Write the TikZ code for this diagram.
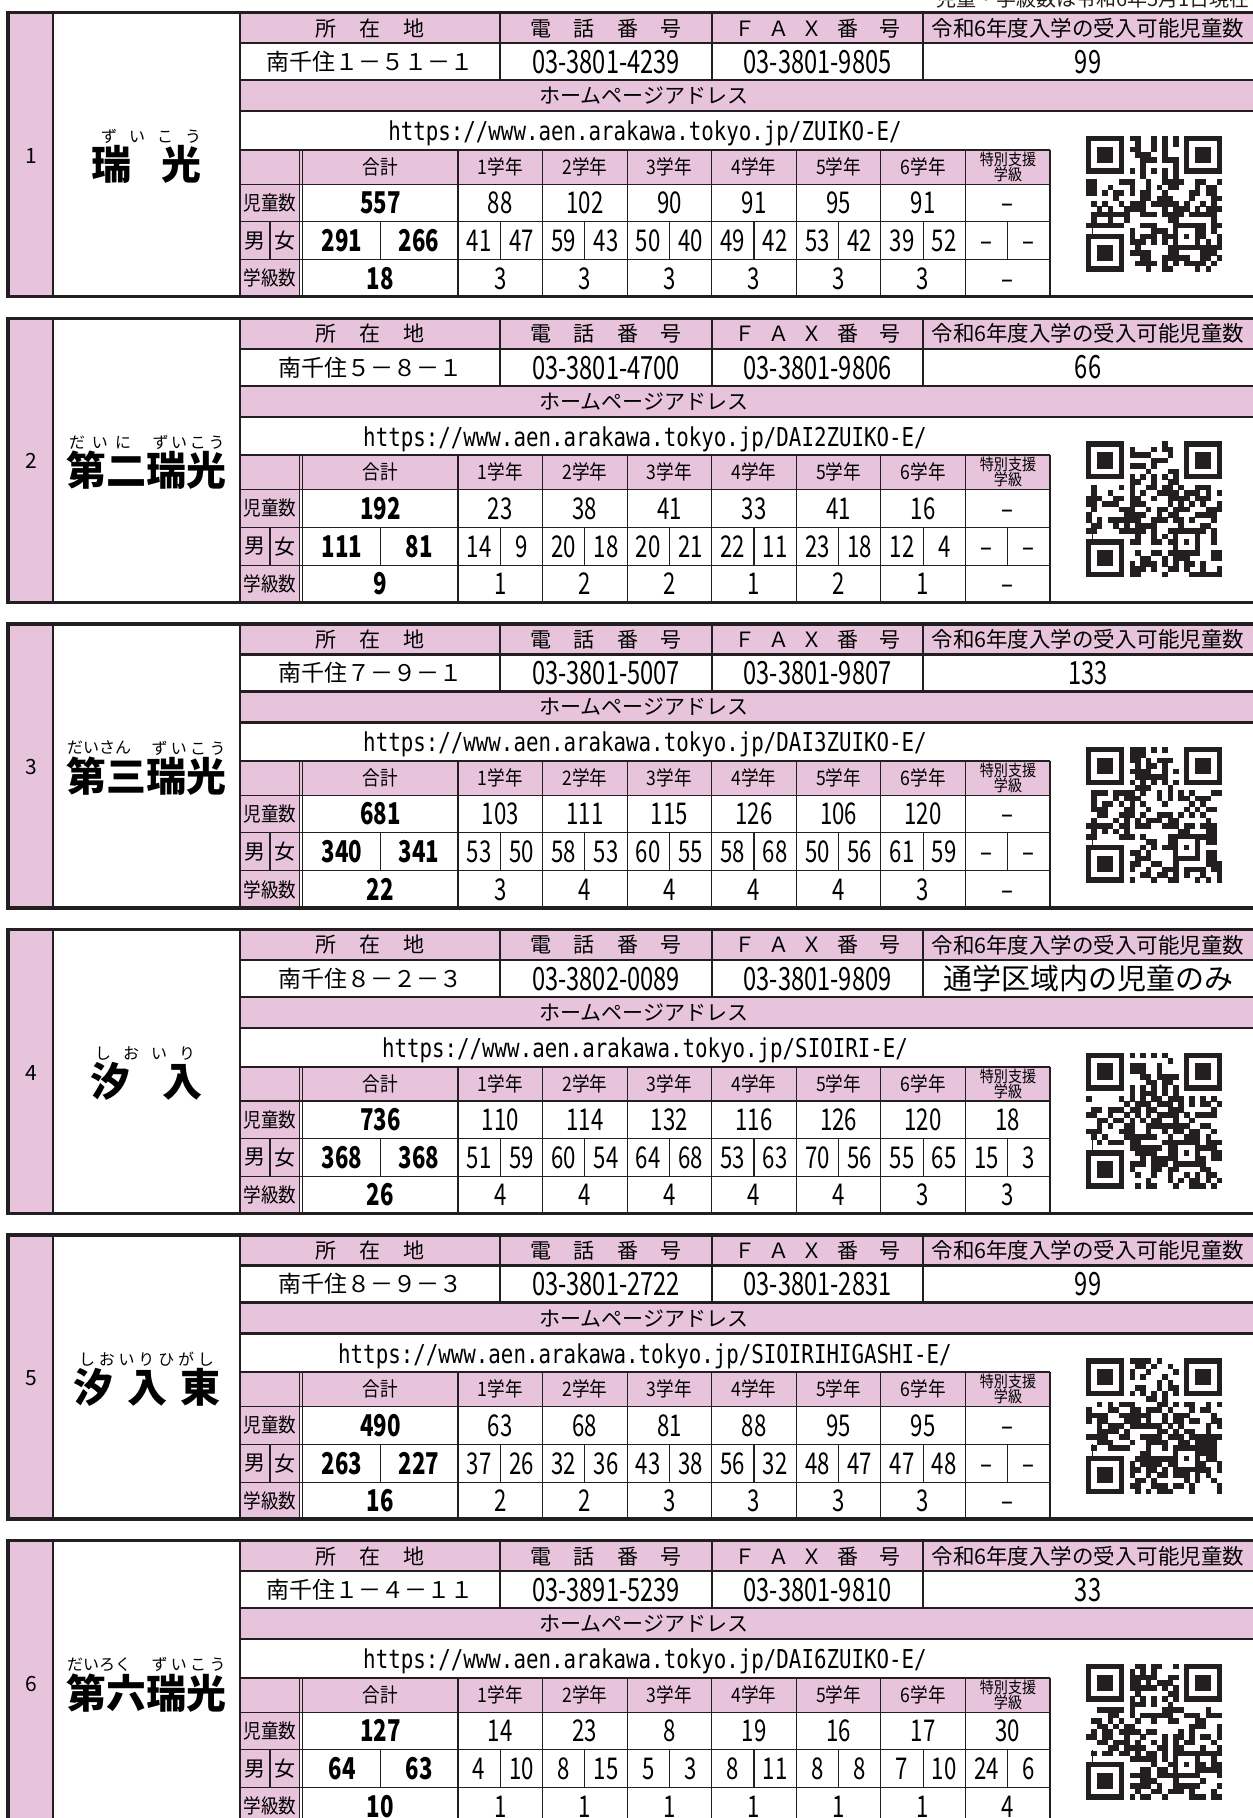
\documentclass[tikz,border=0pt]{standalone}
\usepackage{fontspec}
\setmainfont{Noto Sans CJK JP}
\newfontfamily\jp{Noto Sans CJK JP}
\newfontfamily\jpc[FakeStretch=0.88]{Noto Sans CJK JP}
\newfontfamily\cond[FakeStretch=0.74]{Noto Sans CJK JP}
\newfontfamily\mono[FakeStretch=0.8]{DejaVu Sans Mono}
\definecolor{pk}{RGB}{232,196,220}
\definecolor{ink}{RGB}{35,31,32}
\newcommand\capfont{\cond\fontsize{32}{32}\selectfont}
\tikzset{
  hdr/.style={font=\jp\fontsize{21}{21}\selectfont, inner sep=0},
  adr/.style={font=\jp\fontsize{23}{23}\selectfont, inner sep=0},
  val/.style={font=\cond\fontsize{32}{32}\selectfont, inner sep=0, text height=23.4pt, text depth=0pt},
  num/.style={font=\cond\fontsize{30}{30}\selectfont, inner sep=0, text height=21.9pt, text depth=0pt},
  bnum/.style={font=\cond\bfseries\fontsize{30}{30}\selectfont, inner sep=0, text height=21.9pt, text depth=0pt},
  lab/.style={font=\jpc\fontsize{20}{20}\selectfont, inner sep=0},
  smlab/.style={font=\jpc\fontsize{16}{15}\selectfont, inner sep=0, align=center},
  urltext/.style={font=\mono\fontsize{26}{26}\selectfont, inner sep=0},
  sname/.style={font=\jp\bfseries\fontsize{40}{40}\selectfont, inner sep=0},
  furi/.style={font=\jp\fontsize{16}{16}\selectfont, inner sep=0},
  thk/.style={draw=ink, line width=2.4pt},
  med/.style={draw=ink, line width=2pt},
  thn/.style={draw=ink, line width=1.1pt}
}
\newcommand\qrpat[3]{%
  \begin{scope}[shift={(#1,#2)},x=5.44pt,y=-5.44pt]
    \pgfmathsetseed{#3}
    \foreach \i in {0,...,24}{
      \foreach \j in {0,...,24}{
        \pgfmathtruncatemacro\zone{(((\i<8)&&(\j<8))||((\i>16)&&(\j<8))||((\i<8)&&(\j>16))||((\i>15)&&(\i<21)&&(\j>15)&&(\j<21))) ? 0 : (((\i==6)||(\j==6)) ? 2 : 1)}
        \ifnum\zone=1
          \pgfmathrandominteger{\rr}{0}{99}
          \ifnum\rr<50 \fill[ink] (\i,\j) rectangle +(1.03,1.03);\fi
        \fi
        \ifnum\zone=2
          \pgfmathtruncatemacro\pty{mod(\i+\j,2)}
          \ifnum\pty=0 \fill[ink] (\i,\j) rectangle +(1.03,1.03);\fi
        \fi
      }
    }
    \foreach \a/\b in {0/0,18/0,0/18}{
      \fill[ink] (\a,\b) rectangle +(7,7);
      \fill[white] (\a+1,\b+1) rectangle +(5,5);
      \fill[ink] (\a+2,\b+2) rectangle +(3,3);
    }
    \fill[ink] (16,16) rectangle (21,21);
    \fill[white] (17,17) rectangle (20,20);
    \fill[ink] (18,18) rectangle (19,19);
  \end{scope}}
\newcommand\drawblock[1]{%
  % pink fills
  \fill[pk] (8,#1) rectangle (53,#1+284);
  \fill[pk] (240,#1) rectangle (1270,#1+30.5);
  \fill[pk] (240,#1+67.5) rectangle (1270,#1+98.5);
  \fill[pk] (240,#1+137) rectangle (1050,#1+171.5);
  \fill[pk] (240,#1+137) rectangle (299.3,#1+284);
  % header lines
  \draw[thk] (240,#1+30.5) -- (1270,#1+30.5);
  \draw[thk] (240,#1+67.5) -- (1270,#1+67.5);
  \draw[thk] (240,#1+98.5) -- (1270,#1+98.5);
  \foreach \xx in {500,712,923} \draw[med] (\xx,#1) -- (\xx,#1+67.5);
  % stats table lines
  \draw[med] (240,#1+137) -- (1050,#1+137);
  \draw[med] (1050,#1+137) -- (1050,#1+284);
  \foreach \yy in {171.5,209,247} \draw[thn] (240,#1+\yy) -- (1050,#1+\yy);
  \draw[thn] (299.3,#1+137) -- (299.3,#1+284);
  \draw[thn] (302.8,#1+137) -- (302.8,#1+284);
  \foreach \k in {0,...,6} \draw[thn] ({458+84.57*\k},#1+137) -- ({458+84.57*\k},#1+284);
  \foreach \k in {0,...,7} \draw[thn] ({458+84.57*\k+42.29},#1+209) -- ({458+84.57*\k+42.29},#1+247);
  \draw[thn] (380.5,#1+209) -- (380.5,#1+247);
  \draw[thn] (270,#1+209) -- (270,#1+247);
  % column lines and outer frame
  \draw[draw=ink,line width=2.5pt] (53,#1) -- (53,#1+284);
  \draw[draw=ink,line width=1.6pt] (240,#1) -- (240,#1+284);
  \draw[draw=ink,line width=3.5pt] (8,#1) rectangle (1275,#1+284);
  % header texts
  \node[hdr] at (31,#1+143) {\Num};
  \node[hdr] at (370,#1+15.5) {所\hspace{1.1em}在\hspace{1.1em}地};
  \node[hdr] at (606,#1+15.5) {電\hspace{1.06em}話\hspace{1.06em}番\hspace{1.06em}号};
  \node[hdr] at (817.5,#1+15.5) {Ｆ\hspace{0.6em}Ａ\hspace{0.6em}Ｘ\hspace{0.7em}番\hspace{1em}号};
  \node[hdr,font=\jp\fontsize{21.5}{21.5}\selectfont] at (1088,#1+15.5) {令和6年度入学の受入可能児童数};
  \node[adr] at (370,#1+49) {\Addr};
  \node[val] at (606,#1+49) {\Tel};
  \node[val] at (817.5,#1+49) {\Fax};
  \node[inner sep=0] at (1088,#1+49) {\CapT};
  \node[hdr] at (644,#1+83) {ホームページアドレス};
  \node[urltext,anchor=base] at (645,#1+128) {https://www.aen.arakawa.tokyo.jp/\Url/};
  % stats header
  \node[lab] at (380.5,#1+154) {合計};
  \foreach \k in {1,...,6} \node[lab] at ({458+84.57*(\k-1)+42.29},#1+154) {\k 学年};
  \node[smlab] at (1008,#1+154) {特別支援\\学級};
  \node[lab] at (270,#1+190) {児童数};
  \node[hdr] at (255,#1+228) {男};
  \node[hdr] at (285,#1+228) {女};
  \node[lab] at (270,#1+265.5) {学級数};
  % values
  \node[bnum] at (380.5,#1+190) {\Tot};
  \node[bnum] at (342,#1+228) {\TotM};
  \node[bnum] at (419,#1+228) {\TotF};
  \node[bnum] at (380.5,#1+265.5) {\TotC};
  \foreach \v [count=\k from 0] in \Gr \node[num] at ({458+84.57*\k+42.29},#1+190) {\v};
  \foreach \m/\f [count=\k from 0] in \Mf {
    \node[num] at ({458+84.57*\k+21.14},#1+228) {\m};
    \node[num] at ({458+84.57*\k+63.43},#1+228) {\f};
  }
  \foreach \v [count=\k from 0] in \Cl \node[num] at ({458+84.57*\k+42.29},#1+265.5) {\v};
}
\begin{document}
\begin{tikzpicture}[x=1pt,y=-1pt]
\useasboundingbox (0,0) rectangle (1253,1818);
\fill[white] (0,0) rectangle (1253,1818);
\node[font=\jp\fontsize{20}{20}\selectfont, anchor=base east, inner sep=0, text=ink] (note) at (1250,6) {児童・学級数は令和6年5月1日現在};

% ---------- 1 ----------
\def\Num{1}\def\Addr{南千住１－５１－１}\def\Tel{03-3801-4239}\def\Fax{03-3801-9805}\def\CapT{\capfont 99}\def\Url{ZUIKO-E}
\def\Tot{557}\def\TotM{291}\def\TotF{266}\def\TotC{18}
\def\Gr{88,102,90,91,95,91,–}\def\Mf{41/47,59/43,50/40,49/42,53/42,39/52,–/–}\def\Cl{3,3,3,3,3,3,–}
\drawblock{12.7}
\node[sname] (n1) at (146.5,12.7+152) {瑞\hspace{0.75em}光};
\node[furi] (f1) at (151,12.7+124) {\makebox[100pt][s]{ず\hfill い\hfill こ\hfill う}};
\qrpat{1086}{12.7+123}{11}

% ---------- 2 ----------
\def\Num{2}\def\Addr{南千住５－８－１}\def\Tel{03-3801-4700}\def\Fax{03-3801-9806}\def\CapT{\capfont 66}\def\Url{DAI2ZUIKO-E}
\def\Tot{192}\def\TotM{111}\def\TotF{81}\def\TotC{9}
\def\Gr{23,38,41,33,41,16,–}\def\Mf{14/9,20/18,20/21,22/11,23/18,12/4,–/–}\def\Cl{1,2,2,1,2,1,–}
\drawblock{318.3}
\node[sname] (n2) at (146.5,318.3+152) {第二瑞光};
\node[furi] (f2a) at (100,318.3+124) {\makebox[62pt][s]{だ\hfill い\hfill に}};
\node[furi] (f2b) at (188.5,318.3+124) {\makebox[72pt][s]{ず\hfill い\hfill こ\hfill う}};
\qrpat{1086}{318.3+123}{22}

% ---------- 3 ----------
\def\Num{3}\def\Addr{南千住７－９－１}\def\Tel{03-3801-5007}\def\Fax{03-3801-9807}\def\CapT{\capfont 133}\def\Url{DAI3ZUIKO-E}
\def\Tot{681}\def\TotM{340}\def\TotF{341}\def\TotC{22}
\def\Gr{103,111,115,126,106,120,–}\def\Mf{53/50,58/53,60/55,58/68,50/56,61/59,–/–}\def\Cl{3,4,4,4,4,3,–}
\drawblock{623.9}
\node[sname] (n3) at (146.5,623.9+152) {第三瑞光};
\node[furi] (f3a) at (97,623.9+124) {\makebox[60pt][s]{だ\hfill い\hfill さ\hfill ん}};
\node[furi] (f3b) at (188.5,623.9+124) {\makebox[74pt][s]{ず\hfill い\hfill こ\hfill う}};
\qrpat{1086}{623.9+123}{33}

% ---------- 4 ----------
\def\Num{4}\def\Addr{南千住８－２－３}\def\Tel{03-3802-0089}\def\Fax{03-3801-9809}\def\CapT{\jp\fontsize{29}{29}\selectfont 通学区域内の児童のみ}\def\Url{SIOIRI-E}
\def\Tot{736}\def\TotM{368}\def\TotF{368}\def\TotC{26}
\def\Gr{110,114,132,116,126,120,18}\def\Mf{51/59,60/54,64/68,53/63,70/56,55/65,15/3}\def\Cl{4,4,4,4,4,3,3}
\drawblock{929.5}
\node[sname] (n4) at (146,929.5+152) {汐\hspace{0.8em}入};
\node[furi] (f4) at (145,929.5+124) {\makebox[100pt][s]{し\hfill お\hfill い\hfill り}};
\qrpat{1086}{929.5+123}{44}

% ---------- 5 ----------
\def\Num{5}\def\Addr{南千住８－９－３}\def\Tel{03-3801-2722}\def\Fax{03-3801-2831}\def\CapT{\capfont 99}\def\Url{SIOIRIHIGASHI-E}
\def\Tot{490}\def\TotM{263}\def\TotF{227}\def\TotC{16}
\def\Gr{63,68,81,88,95,95,–}\def\Mf{37/26,32/36,43/38,56/32,48/47,47/48,–/–}\def\Cl{2,2,3,3,3,3,–}
\drawblock{1235.1}
\node[sname] (n5) at (147,1235.1+152) {汐\hspace{0.33em}入\hspace{0.33em}東};
\node[furi] (f5) at (146.5,1235.1+124) {\makebox[135pt][s]{し\hfill お\hfill い\hfill り\hfill ひ\hfill が\hfill し}};
\qrpat{1086}{1235.1+123}{55}

% ---------- 6 ----------
\def\Num{6}\def\Addr{南千住１－４－１１}\def\Tel{03-3891-5239}\def\Fax{03-3801-9810}\def\CapT{\capfont 33}\def\Url{DAI6ZUIKO-E}
\def\Tot{127}\def\TotM{64}\def\TotF{63}\def\TotC{10}
\def\Gr{14,23,8,19,16,17,30}\def\Mf{4/10,8/15,5/3,8/11,8/8,7/10,24/6}\def\Cl{1,1,1,1,1,1,4}
\drawblock{1540.7}
\node[sname] (n6) at (146.5,1540.7+152) {第六瑞光};
\node[furi] (f6a) at (98.5,1540.7+124) {\makebox[63pt][s]{だ\hfill い\hfill ろ\hfill く}};
\node[furi] (f6b) at (188.5,1540.7+124) {\makebox[74pt][s]{ず\hfill い\hfill こ\hfill う}};
\qrpat{1086}{1540.7+123}{66}
\end{tikzpicture}
\end{document}
